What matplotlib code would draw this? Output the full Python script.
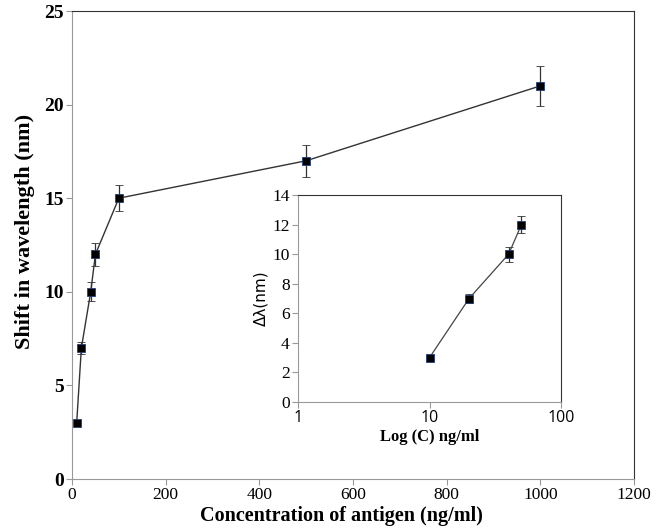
import matplotlib
matplotlib.use("Agg")
import matplotlib.pyplot as plt
from matplotlib.ticker import FixedLocator, FixedFormatter

# Main chart data
conc = [10, 20, 40, 50, 100, 500, 1000]
shift = [3, 7, 10, 12, 15, 17, 21]
shift_err = [0.0, 0.3, 0.5, 0.6, 0.7, 0.85, 1.05]
main_xticks = [0, 200, 400, 600, 800, 1000, 1200]
main_yticks = [0, 5, 10, 15, 20, 25]

# Inset data
inset_conc = [10, 20, 40, 50]
inset_shift = [3, 7, 10, 12]
inset_err = [0.1, 0.3, 0.5, 0.6]
inset_yticks = [0, 2, 4, 6, 8, 10, 12, 14]
inset_xticks = [1, 10, 100]

serif = "Liberation Serif"

fig = plt.figure(figsize=(6.61, 5.32), dpi=100)
ax = fig.add_axes([72/661, 1-479/532, (634-72)/661, (479-11)/532])

ax.errorbar(conc, shift, yerr=shift_err, color="#333333", lw=1.0,
            marker="s", ms=5.5, mfc="black", mec="#1f3f7a", mew=0.6,
            ecolor="#333333", elinewidth=0.9, capsize=3, capthick=0.9)
ax.set_xlim(0, 1200)
ax.set_ylim(0, 25)
ax.set_xticks(main_xticks)
ax.set_yticks(main_yticks)
ax.set_xticklabels([str(t) for t in main_xticks], fontfamily=serif, fontsize=12.5)
ax.set_yticklabels([str(t) for t in main_yticks], fontfamily=serif, fontsize=14, fontweight="bold")
ax.set_xlabel("Concentration of antigen (ng/ml)", fontfamily=serif, fontsize=14.5,
              fontweight="bold", labelpad=1)
ax.set_ylabel("Shift in wavelength (nm)", fontfamily=serif, fontsize=16,
              fontweight="bold", labelpad=6)
ax.xaxis.set_label_coords(0.48, -0.058)
ax.yaxis.set_label_coords(-0.065, 0.528)
for s in ["left", "bottom"]:
    ax.spines[s].set_color("#999999")
for s in ["top", "right"]:
    ax.spines[s].set_color("#333333")
ax.tick_params(axis="both", direction="out", length=4, color="#999999", pad=2)

# Inset
ins = fig.add_axes([298/661, 1-402/532, (561-298)/661, (402-195)/532])
ins.errorbar(inset_conc, inset_shift, yerr=inset_err, color="#444444", lw=0.9,
             marker="s", ms=5.5, mfc="black", mec="#1f3f7a", mew=0.6,
             ecolor="#333333", elinewidth=0.9, capsize=3, capthick=0.9)
ins.set_xscale("log")
ins.set_xlim(1, 100)
ins.set_ylim(0, 14)
ins.xaxis.set_major_locator(FixedLocator(inset_xticks))
ins.xaxis.set_major_formatter(FixedFormatter([str(t) for t in inset_xticks]))
ins.xaxis.set_minor_locator(FixedLocator([]))
ins.set_yticks(inset_yticks)
ins.set_yticklabels([str(t) for t in inset_yticks], fontfamily=serif, fontsize=12.5)
for lab in ins.get_xticklabels():
    lab.set_fontfamily("Open Sans")
    lab.set_fontsize(11.5)
ins.set_xlabel("Log (C) ng/ml", fontfamily=serif, fontsize=12, fontweight="bold", labelpad=2)
ins.set_ylabel("Δλ(nm)", fontfamily="DejaVu Sans", fontsize=11, labelpad=3)
for s in ["left", "bottom"]:
    ins.spines[s].set_color("#999999")
for s in ["top", "right"]:
    ins.spines[s].set_color("#333333")
ins.tick_params(axis="both", direction="out", length=4, color="#999999", pad=2)

fig.savefig("out.png", dpi=100)
